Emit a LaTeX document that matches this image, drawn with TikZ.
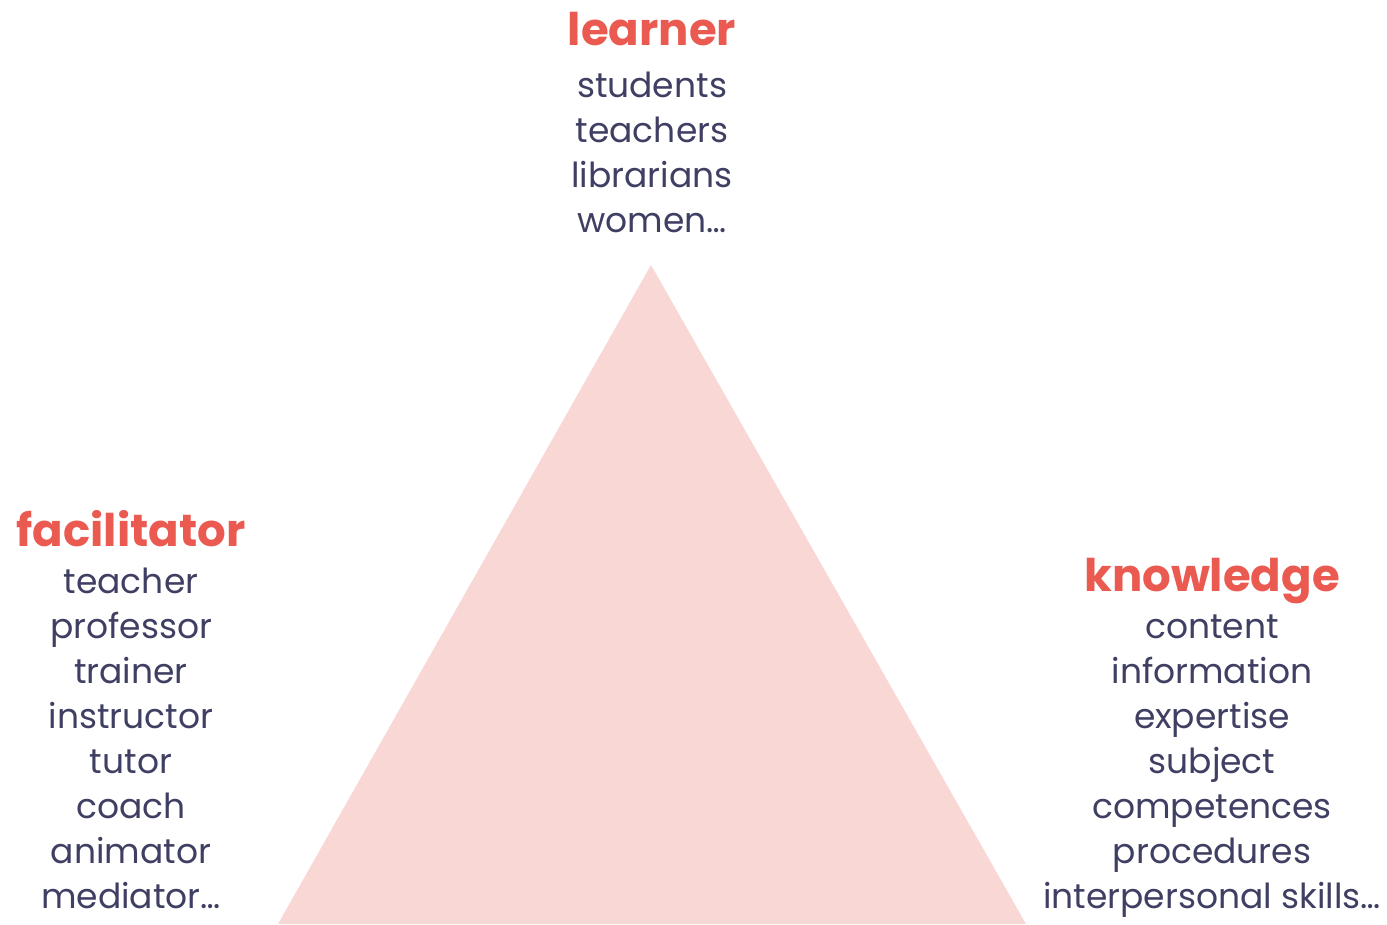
\documentclass[tikz,border=0pt]{standalone}
\usepackage{fontspec}
\setmainfont{Poppins}
\definecolor{tri}{HTML}{F8D7D5}
\definecolor{head}{HTML}{EA5A50}
\definecolor{body}{HTML}{3F3F63}
\tikzset{
  headtext/.style={anchor=base, text=head, inner sep=0pt, font=\fontsize{45bp}{50bp}\selectfont\bfseries},
  itemtext/.style={anchor=base, text=body, inner sep=0pt, font=\fontsize{34.5bp}{45bp}\selectfont}
}
\begin{document}
\begin{tikzpicture}[x=1bp,y=-1bp]
\useasboundingbox (0,0) rectangle (1387,924);
\fill[tri] (651,265) -- (1026,924) -- (278,924) -- cycle;
% learner
\node[headtext] (learner) at (652,45) {learner};
\foreach \t [count=\i] in {students,teachers,librarians,women…}
  \node[itemtext] (l\i) at (652,52+45*\i) {\t};
% facilitator
\node[headtext] (facilitator) at (131,546) {facilitator};
\foreach \t [count=\i] in {teacher,professor,trainer,instructor,tutor,coach,animator,mediator…}
  \node[itemtext] (f\i) at (131,548+45*\i) {\t};
% knowledge
\node[headtext] (knowledge) at (1212,591) {knowledge};
\foreach \t [count=\i] in {content,information,expertise,subject,competences,procedures,interpersonal skills…}
  \node[itemtext] (k\i) at (1212,593+45*\i) {\t};
\end{tikzpicture}
\end{document}
